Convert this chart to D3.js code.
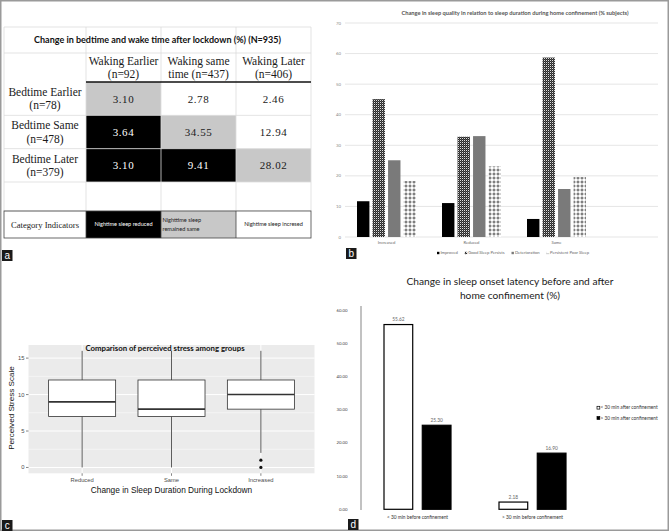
<!DOCTYPE html>
<html>
<head>
<meta charset="utf-8">
<script src="https://cdn.jsdelivr.net/npm/d3@7"></script>
<style>
  body { margin: 0; background: #fff; }
  svg { display: block; }
</style>
</head>
<body>
<svg id="chart"></svg>
<script>
// ---- data ----
// a: bedtime x wake time table
const wakeLabels = [['Waking Earlier', '(n=92)'], ['Waking same', 'time (n=437)'], ['Waking Later', '(n=406)']]
const bedLabels = [['Bedtime Earlier', '(n=78)'], ['Bedtime Same', '(n=478)'], ['Bedtime Later', '(n=379)']]
const bedWakeValues = [
  [3.10, 2.78, 2.46],
  [3.64, 34.55, 12.94],
  [3.10, 9.41, 28.02]
]
const sleepCategory = [
  ['same', 'increased', 'increased'],
  ['reduced', 'same', 'increased'],
  ['reduced', 'reduced', 'same']
]
const categoryKeys = ['reduced', 'same', 'increased']
const categoryTexts = [['Nightime sleep reduced'], ['Nighttime sleep', 'remained same'], ['Nightime sleep incresed']]

// b: sleep quality by sleep duration
const qualityGroups = ['Increased', 'Reduced', 'Same']
const qualitySeries = ['Improved', 'Good Sleep Persists', 'Deterioration', 'Persistent Poor Sleep']
const qualityValues = [
  [11.7, 45.1, 25.1, 18.3],
  [11.1, 32.8, 33.0, 23.1],
  [5.9, 58.7, 15.7, 19.6]
]
const qualityTicks = [0, 10, 20, 30, 40, 50, 60, 70]

// c: perceived stress boxplots
const stressGroups = ['Reduced', 'Same', 'Increased']
const stressLow = [0, 0, 2]
const stressQ1 = [7, 7, 8]
const stressMedian = [9, 8, 10]
const stressQ3 = [12, 12, 12]
const stressHigh = [16, 16, 16]
const stressOutliers = [[], [], [1, 0]]
const stressTicks = [0, 5, 10, 15]
const stressMinorTicks = [2.5, 7.5, 12.5]

// d: sleep onset latency
const latencyGroups = ['< 30 min before confinement', '> 30 min before confinement']
const latencySeries = ['< 30 min after confinement', '> 30 min after confinement']
const latencyValues = [
  [55.62, 25.30],
  [2.18, 16.90]
]
const latencyTicks = [0, 10, 20, 30, 40, 50, 60]

// ---- page ----
const width = 669
const height = 531
const svg = d3.select('#chart').attr('width', width).attr('height', height)
const defs = svg.append('defs')

svg.append('rect')
  .attr('x', 0.75).attr('y', 0.75)
  .attr('width', width - 1.5).attr('height', height - 1.5)
  .attr('fill', '#fff').attr('stroke', '#9a9a9a').attr('stroke-width', 1.5)

const serif = '"Liberation Serif", "DejaVu Serif", serif'
const sans = 'Lato, "Open Sans", sans-serif'
const arial = '"Liberation Sans", Arial, sans-serif'

function lines(sel, arr, cx, cy, gap) {
  arr.forEach((t, i) => {
    sel.append('tspan')
      .attr('x', cx)
      .attr('y', cy + (i - (arr.length - 1) / 2) * gap)
      .attr('dy', '0.35em')
      .text(t)
  })
}

// ---- panel a ----
const pa = svg.append('g')
const colX = d3.scaleBand().domain(d3.range(3)).range([86, 311])
const rowY = d3.scaleBand().domain(d3.range(3)).range([82, 182])
const shade = d3.scaleOrdinal().domain(categoryKeys).range(['#000', '#c8c8c8', '#fff'])
const ink = d3.scaleOrdinal().domain(categoryKeys).range(['#fff', '#1a1a1a', '#1a1a1a'])

// cells
bedWakeValues.forEach((row, r) => {
  row.forEach((v, c) => {
    const cat = sleepCategory[r][c]
    pa.append('rect')
      .attr('x', colX(c)).attr('y', rowY(r))
      .attr('width', colX.bandwidth()).attr('height', rowY.bandwidth())
      .attr('fill', shade(cat))
    pa.append('text')
      .attr('x', colX(c) + colX.bandwidth() / 2)
      .attr('y', rowY(r) + rowY.bandwidth() / 2)
      .attr('dy', '0.35em')
      .attr('text-anchor', 'middle')
      .style('font-family', serif).style('font-size', '11px').style('letter-spacing', '0.6px')
      .attr('fill', ink(cat))
      .text(v.toFixed(2))
  })
})

// light grid
const gridCol = '#dcdcdc'
;[4, 86, colX(1), colX(2), 311].forEach(x => {
  pa.append('line').attr('x1', x).attr('x2', x).attr('y1', 27).attr('y2', 211)
    .attr('stroke', gridCol).attr('stroke-width', 0.8)
})
;[27, 53, rowY(1), rowY(2), 182, 211].forEach(y => {
  pa.append('line').attr('x1', 4).attr('x2', 311).attr('y1', y).attr('y2', y)
    .attr('stroke', gridCol).attr('stroke-width', 0.8)
})
pa.append('line').attr('x1', 86).attr('x2', 311).attr('y1', 82).attr('y2', 82)
  .attr('stroke', '#111').attr('stroke-width', 1.5)

pa.append('text')
  .attr('x', 157.5).attr('y', 40).attr('dy', '0.35em')
  .attr('text-anchor', 'middle')
  .style('font-family', sans).style('font-weight', 'bold').style('font-size', '9px')
  .attr('fill', '#111')
  .text('Change in bedtime and wake time after lockdown (%) (N=935)')

wakeLabels.forEach((l, i) => {
  pa.append('text')
    .attr('text-anchor', 'middle')
    .style('font-family', serif).style('font-size', '11.5px')
    .attr('fill', '#1a1a1a')
    .call(lines, l, colX(i) + colX.bandwidth() / 2, 67.5, 13.5)
})
bedLabels.forEach((l, i) => {
  pa.append('text')
    .attr('text-anchor', 'middle')
    .style('font-family', serif).style('font-size', '11.5px')
    .attr('fill', '#1a1a1a')
    .call(lines, l, 45, rowY(i) + rowY.bandwidth() / 2, 13.5)
})

// category indicators row
categoryKeys.forEach((k, i) => {
  pa.append('rect')
    .attr('x', colX(i)).attr('y', 211)
    .attr('width', colX.bandwidth()).attr('height', 27)
    .attr('fill', shade(k))
  pa.append('text')
    .attr('text-anchor', k === 'same' ? 'start' : 'middle')
    .style('font-family', sans).style('font-size', '5.6px')
    .attr('fill', ink(k))
    .call(lines, categoryTexts[i], k === 'same' ? colX(i) + 1.5 : colX(i) + colX.bandwidth() / 2, 224.5, 9)
})
pa.append('rect').attr('x', 4).attr('y', 211).attr('width', 307).attr('height', 27)
  .attr('fill', 'none').attr('stroke', '#444').attr('stroke-width', 0.8)
;[86, colX(1), colX(2)].forEach(x => {
  pa.append('line').attr('x1', x).attr('x2', x).attr('y1', 211).attr('y2', 238)
    .attr('stroke', '#444').attr('stroke-width', 0.8)
})
pa.append('text')
  .attr('x', 45).attr('y', 224.5).attr('dy', '0.35em')
  .attr('text-anchor', 'middle')
  .style('font-family', serif).style('font-size', '8.6px')
  .attr('fill', '#222')
  .text('Category Indicators')

// ---- panel b ----
const checker = defs.append('pattern').attr('id', 'checker')
  .attr('patternUnits', 'userSpaceOnUse').attr('width', 2).attr('height', 2)
checker.append('rect').attr('width', 2).attr('height', 2).attr('fill', '#2a2a2a')
checker.append('rect').attr('width', 1).attr('height', 1).attr('fill', '#e0e0e0')
checker.append('rect').attr('x', 1).attr('y', 1).attr('width', 1).attr('height', 1).attr('fill', '#555')

const plus = defs.append('pattern').attr('id', 'plus')
  .attr('patternUnits', 'userSpaceOnUse').attr('width', 4).attr('height', 4)
plus.append('rect').attr('width', 4).attr('height', 4).attr('fill', '#fff')
plus.append('rect').attr('x', 1.5).attr('y', 0.5).attr('width', 1).attr('height', 3).attr('fill', '#555')
plus.append('rect').attr('x', 0.5).attr('y', 1.5).attr('width', 3).attr('height', 1).attr('fill', '#555')

const qualityFill = d3.scaleOrdinal().domain(qualitySeries)
  .range(['#000', 'url(#checker)', '#7a7a7a', 'url(#plus)'])

const pb = svg.append('g')
const bx0 = d3.scaleBand().domain(qualityGroups).range([344, 599])
const bx1 = d3.scaleBand().domain(qualitySeries).range([13, 72]).paddingInner(0.2)
const by = d3.scaleLinear().domain([0, 70]).range([237, 23])

pb.selectAll('.grid').data(qualityTicks).enter().append('line')
  .attr('x1', 345).attr('x2', 658)
  .attr('y1', d => by(d)).attr('y2', d => by(d))
  .attr('stroke', '#dadada').attr('stroke-width', 0.7)
pb.selectAll('.tick').data(qualityTicks).enter().append('text')
  .attr('x', 341).attr('y', d => by(d)).attr('dy', '0.35em')
  .attr('text-anchor', 'end')
  .style('font-family', sans).style('font-size', '4.3px')
  .attr('fill', '#888')
  .text(d => d)

qualityGroups.forEach((g, gi) => {
  pb.selectAll('.bar' + gi).data(qualityValues[gi]).enter().append('rect')
    .attr('x', (d, i) => bx0(g) + bx1(qualitySeries[i]))
    .attr('y', d => by(d))
    .attr('width', bx1.bandwidth())
    .attr('height', d => by(0) - by(d))
    .attr('fill', (d, i) => qualityFill(qualitySeries[i]))
  pb.append('text')
    .attr('x', bx0(g) + bx0.bandwidth() / 2).attr('y', 243).attr('dy', '0.35em')
    .attr('text-anchor', 'middle')
    .style('font-family', sans).style('font-size', '4.2px')
    .attr('fill', '#666')
    .text(g)
})

pb.append('text')
  .attr('x', 515).attr('y', 13).attr('dy', '0.35em')
  .attr('text-anchor', 'middle')
  .style('font-family', sans).style('font-weight', 'bold').style('font-size', '5.7px')
  .attr('fill', '#555')
  .text('Change in sleep quality in relation to sleep duration during home confinement (% subjects)')

// legend b
let lx = 437
qualitySeries.forEach(s => {
  pb.append('rect').attr('x', lx).attr('y', 251.8).attr('width', 2.4).attr('height', 2.4)
    .attr('fill', qualityFill(s))
  const t = pb.append('text')
    .attr('x', lx + 3.4).attr('y', 253).attr('dy', '0.35em')
    .style('font-family', sans).style('font-size', '4.2px')
    .attr('fill', '#666')
    .text(s)
  lx += 3.4 + t.node().getComputedTextLength() + 7
})

// ---- panel c ----
const pc = svg.append('g')
const cx = d3.scalePoint().domain(stressGroups).range([28.5, 314.5]).padding(0.6)
const cy = d3.scaleLinear().domain([-0.8, 16.8]).range([473.3, 345])
const boxW = cx.step() * 0.75

pc.append('rect').attr('x', 28.5).attr('y', 345).attr('width', 286).attr('height', 128.3)
  .attr('fill', '#ebebeb')
pc.selectAll('.minor').data(stressMinorTicks).enter().append('line')
  .attr('x1', 28.5).attr('x2', 314.5)
  .attr('y1', d => cy(d)).attr('y2', d => cy(d))
  .attr('stroke', '#fff').attr('stroke-width', 0.5)
pc.selectAll('.major').data(stressTicks).enter().append('line')
  .attr('x1', 28.5).attr('x2', 314.5)
  .attr('y1', d => cy(d)).attr('y2', d => cy(d))
  .attr('stroke', '#fff').attr('stroke-width', 1)
pc.selectAll('.vmajor').data(stressGroups).enter().append('line')
  .attr('x1', d => cx(d)).attr('x2', d => cx(d))
  .attr('y1', 345).attr('y2', 473.3)
  .attr('stroke', '#fff').attr('stroke-width', 1)

stressGroups.forEach((g, i) => {
  const x = cx(g)
  pc.append('line').attr('x1', x).attr('x2', x).attr('y1', cy(stressQ3[i])).attr('y2', cy(stressHigh[i]))
    .attr('stroke', '#333').attr('stroke-width', 0.8)
  pc.append('line').attr('x1', x).attr('x2', x).attr('y1', cy(stressQ1[i])).attr('y2', cy(stressLow[i]))
    .attr('stroke', '#333').attr('stroke-width', 0.8)
  pc.append('rect')
    .attr('x', x - boxW / 2).attr('y', cy(stressQ3[i]))
    .attr('width', boxW).attr('height', cy(stressQ1[i]) - cy(stressQ3[i]))
    .attr('fill', '#fff').attr('stroke', '#333').attr('stroke-width', 0.8)
  pc.append('line')
    .attr('x1', x - boxW / 2).attr('x2', x + boxW / 2)
    .attr('y1', cy(stressMedian[i])).attr('y2', cy(stressMedian[i]))
    .attr('stroke', '#333').attr('stroke-width', 1.6)
  pc.selectAll('.out' + i).data(stressOutliers[i]).enter().append('circle')
    .attr('cx', x).attr('cy', d => cy(d)).attr('r', 1.6)
    .attr('fill', '#111')
})

pc.selectAll('.ytick').data(stressTicks).enter().append('line')
  .attr('x1', 26).attr('x2', 28.5)
  .attr('y1', d => cy(d)).attr('y2', d => cy(d))
  .attr('stroke', '#333').attr('stroke-width', 0.6)
pc.selectAll('.ylab').data(stressTicks).enter().append('text')
  .attr('x', 24.5).attr('y', d => cy(d)).attr('dy', '0.35em')
  .attr('text-anchor', 'end')
  .style('font-family', arial).style('font-size', '5.8px')
  .attr('fill', '#4d4d4d')
  .text(d => d)
pc.selectAll('.xtick').data(stressGroups).enter().append('line')
  .attr('x1', d => cx(d)).attr('x2', d => cx(d))
  .attr('y1', 473.3).attr('y2', 475.8)
  .attr('stroke', '#333').attr('stroke-width', 0.6)
pc.selectAll('.xlab').data(stressGroups).enter().append('text')
  .attr('x', d => cx(d)).attr('y', 479.5).attr('dy', '0.35em')
  .attr('text-anchor', 'middle')
  .style('font-family', arial).style('font-size', '5.8px')
  .attr('fill', '#4d4d4d')
  .text(d => d)

pc.append('text')
  .attr('x', 171.5).attr('y', 490).attr('dy', '0.35em')
  .attr('text-anchor', 'middle')
  .style('font-family', arial).style('font-size', '8.3px')
  .attr('fill', '#111')
  .text('Change in Sleep Duration During Lockdown')
pc.append('text')
  .attr('transform', 'translate(11,408) rotate(-90)')
  .attr('dy', '0.35em')
  .attr('text-anchor', 'middle')
  .style('font-family', arial).style('font-size', '8.1px')
  .attr('fill', '#111')
  .text('Perceived Stress Scale')
pc.append('text')
  .attr('x', 165).attr('y', 348.5).attr('dy', '0.35em')
  .attr('text-anchor', 'middle')
  .style('font-family', sans).style('font-weight', 'bold').style('font-size', '7.8px')
  .attr('fill', '#111')
  .text('Comparison of perceived stress among groups')

// ---- panel d ----
const pd = svg.append('g')
const dx0 = d3.scaleBand().domain(latencyGroups).range([359, 589])
const dx1 = d3.scaleBand().domain(latencySeries).range([25, 92]).paddingInner(0.25)
const dy = d3.scaleLinear().domain([0, 60]).range([509.3, 310])
const latencyFill = d3.scaleOrdinal().domain(latencySeries).range(['#fff', '#000'])

pd.append('line').attr('x1', 361).attr('x2', 361).attr('y1', 306).attr('y2', 510)
  .attr('stroke', '#999').attr('stroke-width', 1.2)
pd.selectAll('.ylab').data(latencyTicks).enter().append('text')
  .attr('x', 347.5).attr('y', d => dy(d)).attr('dy', '0.35em')
  .attr('text-anchor', 'end')
  .style('font-family', sans).style('font-size', '4.3px')
  .attr('fill', '#444')
  .text(d => d.toFixed(2))

latencyGroups.forEach((g, gi) => {
  latencyValues[gi].forEach((v, i) => {
    const x = dx0(g) + dx1(latencySeries[i])
    pd.append('rect')
      .attr('x', x).attr('y', dy(v))
      .attr('width', dx1.bandwidth()).attr('height', dy(0) - dy(v))
      .attr('fill', latencyFill(latencySeries[i]))
      .attr('stroke', '#000').attr('stroke-width', 1.2)
    pd.append('text')
      .attr('x', x + dx1.bandwidth() / 2).attr('y', dy(v) - 5).attr('dy', '0.35em')
      .attr('text-anchor', 'middle')
      .style('font-family', sans).style('font-size', '4.8px')
      .attr('fill', '#666')
      .text(v.toFixed(2))
  })
  pd.append('text')
    .attr('x', dx0(g) + 58.5).attr('y', 517).attr('dy', '0.35em')
    .attr('text-anchor', 'middle')
    .style('font-family', sans).style('font-size', '4.8px')
    .attr('fill', '#333')
    .text(g)
})

latencySeries.forEach((s, i) => {
  const ly = 407.7 + i * 10.3
  pd.append('rect').attr('x', 597).attr('y', ly - 1.4).attr('width', 2.8).attr('height', 2.8)
    .attr('fill', latencyFill(s)).attr('stroke', '#000').attr('stroke-width', 0.7)
  pd.append('text')
    .attr('x', 600.5).attr('y', ly).attr('dy', '0.35em')
    .style('font-family', sans).style('font-size', '4.8px')
    .attr('fill', '#333')
    .text(s)
})

pd.append('text')
  .attr('text-anchor', 'middle')
  .style('font-family', sans).style('font-size', '10.2px')
  .attr('fill', '#1a1a1a')
  .call(lines, ['Change in sleep onset latency before and after', 'home confinement (%)'], 510, 288, 14)

// ---- panel letters ----
const letters = [['a', 2, 250], ['b', 346, 248], ['c', 2, 520], ['d', 348, 519]]
letters.forEach(([l, x, y]) => {
  svg.append('rect').attr('x', x).attr('y', y).attr('width', 10.5).attr('height', 11)
    .attr('fill', '#1a1a1a')
  svg.append('text')
    .attr('x', x + 5.25).attr('y', y + 5.5).attr('dy', '0.35em')
    .attr('text-anchor', 'middle')
    .style('font-family', arial).style('font-size', '10px')
    .attr('fill', '#fff')
    .text(l)
})
</script>
</body>
</html>
